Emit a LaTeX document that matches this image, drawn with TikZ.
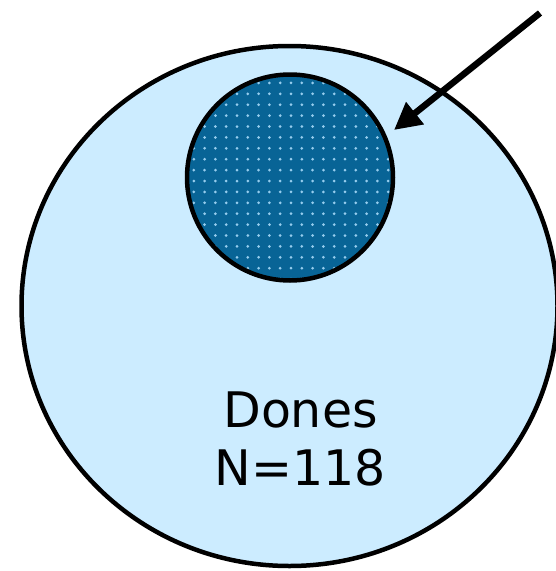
\documentclass[tikz,border=0pt]{standalone}
\usepackage{fontspec}
\setmainfont{DejaVu Sans}
\usetikzlibrary{arrows.meta,shapes.geometric}
\definecolor{lightfill}{RGB}{204,236,255}
\definecolor{darkfill}{RGB}{8,100,150}
\definecolor{dotcol}{RGB}{150,205,238}
\tikzset{
  outline/.style={draw=black,line width=4.5pt},
  bigarrow/.style={line width=6.5pt,-{Triangle[length=27pt,width=27pt]}},
  label/.style={font=\fontsize{49}{58}\selectfont,align=center,inner sep=0pt},
}
\begin{document}
\begin{tikzpicture}[x=1pt,y=-1pt]
\useasboundingbox (0,0) rectangle (556,571);
% big ellipse
\node[ellipse,outline,fill=lightfill,minimum width=536pt,minimum height=520pt,inner sep=0pt] (big) at (289.5,306) {};
% small circle
\fill[darkfill] (290,177.5) circle (103);
\begin{scope}
\clip (290,177.5) circle (103);
\foreach \i in {0,...,20}{
  \foreach \j in {0,...,20}{
    \fill[dotcol] (183+\i*10.8,72+\j*10.9) circle (1.5);
  }
}
\end{scope}
\node[circle,outline,minimum size=206pt,inner sep=0pt] (small) at (290,177.5) {};
% arrow
\coordinate (start) at (540,13);
\coordinate (tip) at (394,130);
\draw[bigarrow] (start) -- (tip);
% text
\node[label] (txt) at (300.5,439) {Dones\\N=118};
\end{tikzpicture}
\end{document}
